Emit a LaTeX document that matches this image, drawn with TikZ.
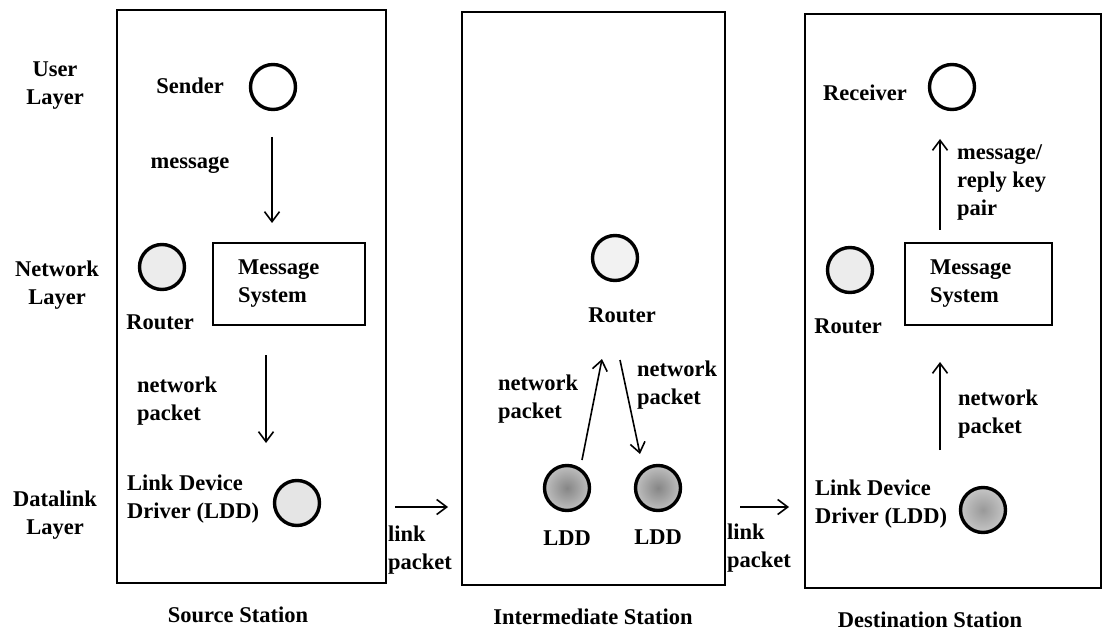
\documentclass[tikz,border=0pt]{standalone}
\usepackage{fontspec}
\setmainfont{Liberation Serif}
\usetikzlibrary{arrows.meta}
\begin{document}
\begin{tikzpicture}[x=1pt,y=-1pt,
  every node/.style={font=\fontsize{22.5}{28}\selectfont\bfseries, inner sep=0pt},
  station/.style={draw, line width=2.8pt},
  dev/.style={circle, draw, line width=3.4pt, minimum size=45pt},
  msgbox/.style={draw, line width=2pt},
  flow/.style={line width=1.6pt, -{Straight Barb[length=10pt,width=15pt,line width=1.6pt]}},
  lbl/.style={align=left, anchor=west}
]
\useasboundingbox (0,0) rectangle (1107,636);

% station frames
\draw[station] (117,10) rectangle (386,583);
\draw[station] (462,12) rectangle (725,585);
\draw[station] (805,14) rectangle (1101,588);

% layer labels
\node[align=center] (ul) at (55,86) {User\\Layer};
\node[align=center] (nl) at (57,285) {Network\\Layer};
\node[align=center] (dl) at (55,515) {Datalink\\Layer};

% ---------- Source station ----------
\node (sendert) at (190,86) {Sender};
\node[dev, fill=white] (sender) at (273,87) {};
\node (msgt) at (190,165) {message};
\node[dev, fill=gray!15] (srouter) at (162,267) {};
\node (sroutert) at (160,322) {Router};
\node[msgbox, minimum width=152pt, minimum height=82pt] (smsg) at (289,284) {};
\node[lbl] (smsgt) at (238,284) {Message\\System};
\node[lbl] (snpt) at (137,401) {network\\packet};
\node[lbl] (sldt) at (127,499) {Link Device\\Driver (LDD)};
\node[dev, fill=gray!20] (sldd) at (297,503) {};
\node (sst) at (238,615) {Source Station};

\coordinate (a1s) at (272,137);
\coordinate (a1e) at (272,223);
\draw[flow] (a1s) -- (a1e);
\coordinate (a2s) at (266,355);
\coordinate (a2e) at (266,443);
\draw[flow] (a2s) -- (a2e);

% link 1
\coordinate (l1s) at (395,507);
\coordinate (l1e) at (448,507);
\draw[flow] (l1s) -- (l1e);
\node[lbl] (l1t) at (388,550) {link\\packet};

% ---------- Intermediate station ----------
\node[dev, fill=gray!10] (irouter) at (615,258) {};
\node (iroutert) at (622,315) {Router};
\node[dev, inner color=gray!95, outer color=gray!50] (ildd1) at (567,488) {};
\node[dev, inner color=gray!95, outer color=gray!50] (ildd2) at (658,488) {};
\node (il1t) at (567,538) {LDD};
\node (il2t) at (658,537) {LDD};
\node[lbl] (inp1) at (498,399) {network\\packet};
\node[lbl] (inp2) at (637,385) {network\\packet};
\coordinate (iu1) at (582,460);
\coordinate (iu2) at (602,359);
\draw[flow] (iu1) -- (iu2);
\coordinate (id1) at (620,360);
\coordinate (id2) at (640,454);
\draw[flow] (id1) -- (id2);
\node (ist) at (593,617) {Intermediate Station};

% link 2
\coordinate (l2s) at (740,507);
\coordinate (l2e) at (789,507);
\draw[flow] (l2s) -- (l2e);
\node[lbl] (l2t) at (727,548) {link\\packet};

% ---------- Destination station ----------
\node (recvt) at (865,93) {Receiver};
\node[dev, fill=white] (recv) at (952,87) {};
\node[lbl] (mrk) at (957,182) {message/\\reply key\\pair};
\coordinate (d1s) at (940,230);
\coordinate (d1e) at (940,139);
\draw[flow] (d1s) -- (d1e);
\node[dev, fill=gray!15] (drouter) at (850,270) {};
\node (droutert) at (848,326) {Router};
\node[msgbox, minimum width=147pt, minimum height=82pt] (dmsg) at (978,284) {};
\node[lbl] (dmsgt) at (930,284) {Message\\System};
\coordinate (d2s) at (940,450);
\coordinate (d2e) at (940,362);
\draw[flow] (d2s) -- (d2e);
\node[lbl] (dnpt) at (958,414) {network\\packet};
\node[lbl] (dldt) at (815,504) {Link Device\\Driver (LDD)};
\node[dev, inner color=gray!80, outer color=gray!45] (dldd) at (983,510) {};
\node (dst) at (930,620) {Destination Station};
\end{tikzpicture}
\end{document}
